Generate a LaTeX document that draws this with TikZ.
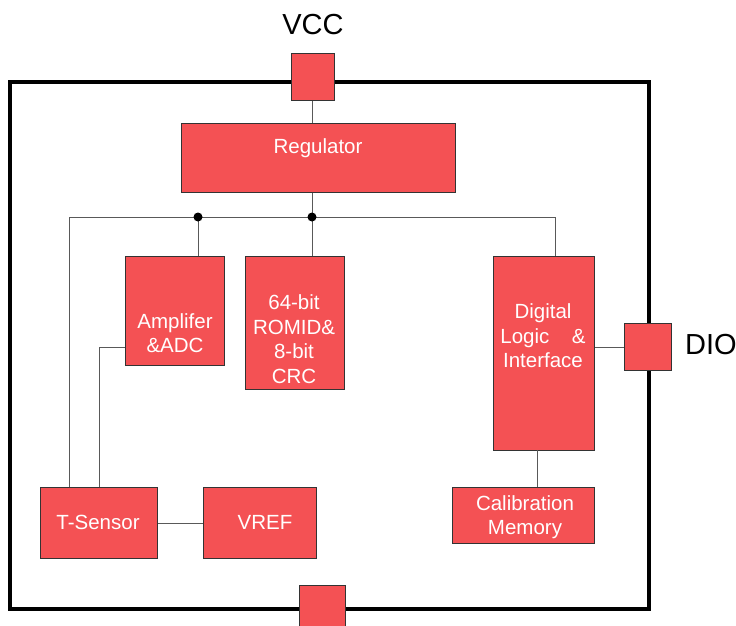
\documentclass[tikz,border=0pt]{standalone}
\usepackage{fontspec}
\setmainfont{Liberation Sans}
\definecolor{blockred}{RGB}{244,81,84}
\begin{document}
\begin{tikzpicture}[x=1pt,y=-1pt,
  blk/.style={draw=black!80, line width=1pt, fill=blockred, inner sep=0pt, anchor=north west},
  wire/.style={draw=black!65, line width=0.9pt},
  chip/.style={draw=black, line width=4pt},
  lbl/.style={text=white, font=\fontsize{20.5}{24.6}\selectfont, align=center, inner sep=0pt},
  pin/.style={text=black, font=\fontsize{29}{34}\selectfont, inner sep=0pt},
  junction/.style={fill=black, circle, inner sep=0pt, minimum size=9pt}]
\useasboundingbox (0,0) rectangle (736,626);

% package outline
\draw[chip] (10,82) rectangle (649,609);

% blocks
\node[blk, minimum width=274pt, minimum height=69pt] (reg) at (181,123) {};
\node[blk, minimum width=99pt, minimum height=109pt] (amp) at (125,256) {};
\node[blk, minimum width=99pt, minimum height=133pt] (rom) at (245,256) {};
\node[blk, minimum width=101pt, minimum height=194pt] (dig) at (493,256) {};
\node[blk, minimum width=117pt, minimum height=71pt] (ts) at (40,487) {};
\node[blk, minimum width=113pt, minimum height=71pt] (vref) at (203,487) {};
\node[blk, minimum width=142pt, minimum height=56pt] (cal) at (452,487) {};

% pads
\node[blk, minimum width=43pt, minimum height=47pt] (vcc) at (291,53) {};
\node[blk, minimum width=47pt, minimum height=47pt] (dio) at (624,323) {};
\node[blk, minimum width=46pt, minimum height=45pt] (gnd) at (299,585) {};

% block labels
\node[lbl] (regT) at (318,148) {Regulator};
\node[lbl] (ampT) at (175,333) {Amplifer\\\&ADC};
\node[lbl] (romT) at (294,339) {64-bit\\ROMID\&\\8-bit\\CRC};
\node[lbl] (digT) at (543,336) {Digital\\Logic\hspace{1.1em}\&\\Interface};
\node[lbl] (calT) at (525,517) {Calibration\\Memory};
\node[lbl] (tsT) at (98,522) {T-Sensor};
\node[lbl] (vrefT) at (265,522) {VREF};

% pin names
\node[pin] (vccT) at (313,25) {VCC};
\node[pin] (dioT) at (711,345) {DIO};

% supply bus
\coordinate (busL) at (69,217);
\coordinate (j1) at (198,217);
\coordinate (j2) at (312,217);
\coordinate (busR) at (555,217);
\coordinate (ax) at (99,347);
\coordinate (cx) at (537,450);

\draw[wire] (vcc.south -| j2) -- (reg.north -| j2);
\draw[wire] (reg.south -| j2) -- (j2);
\draw[wire] (busL |- ts.north) -- (busL) -- (busR) -- (busR |- dig.north);
\draw[wire] (j1) -- (j1 |- amp.north);
\draw[wire] (j2) -- (j2 |- rom.north);
\draw[wire] (ax -| amp.west) -- (ax) -- (ax |- ts.north);
\draw[wire] (ts.east) -- (vref.west);
\draw[wire] (dig.east |- dio.west) -- (dio.west);
\draw[wire] (cx) -- (cx |- cal.north);

\node[junction] (d1) at (j1) {};
\node[junction] (d2) at (j2) {};
\end{tikzpicture}
\end{document}
